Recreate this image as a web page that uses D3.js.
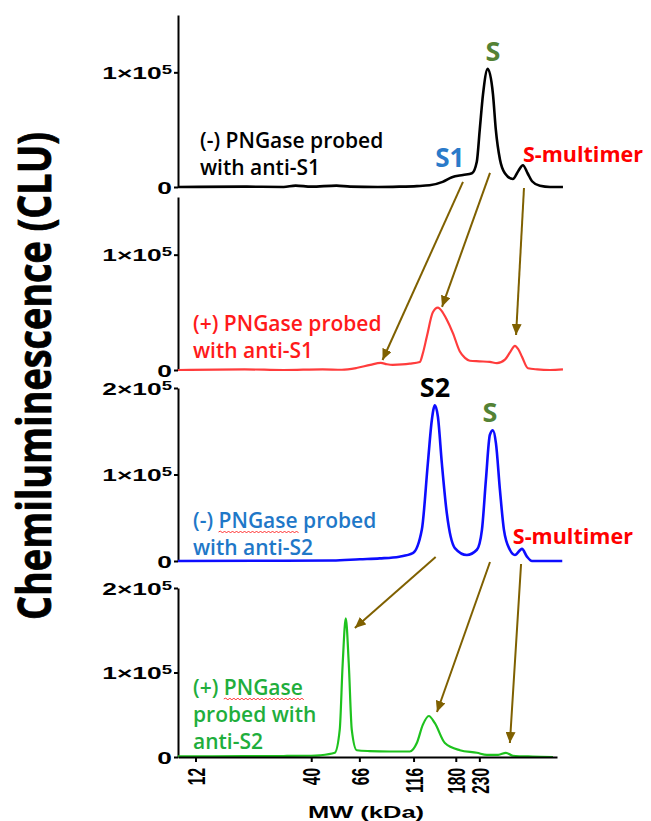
<!DOCTYPE html>
<html>
<head>
<meta charset="utf-8">
<script src="https://cdn.jsdelivr.net/npm/d3@7"></script>
<style>
body{margin:0;background:#fff;}
svg{display:block;}
</style>
</head>
<body>
<div id="chart"></div>
<script>
// x axis: molecular weight (kDa), log scale
const mwTicks = [12, 40, 66, 116, 180, 230];

// traces: [MW (kDa), chemiluminescence (CLU)]
const minusPNGaseS1 = [
  [10, 0], [20, 300], [30, 0], [34, 1200], [40, 300], [52, 1200], [60, 300], [80, 0], [100, 300],
  [120, 800], [137, 1500], [157, 4500], [173, 8500], [194, 10500], [213, 12000], [224, 22000],
  [231, 50000], [239, 81000], [251, 103000], [265, 81000], [273, 50000], [285, 24000],
  [300, 12000], [326, 7000], [345, 14000], [362, 19000], [380, 12000], [398, 5000],
  [432, 1000], [480, 0], [549, 0]
];
const plusPNGaseS1 = [
  [10, 0], [20, 500], [30, 0], [45, 600], [55, 200], [64, 1700], [74, 4500], [82.5, 6200],
  [88, 5000], [93.5, 4500], [103, 4800], [111.6, 5500], [123.8, 7000], [128, 15000],
  [133.2, 29000], [141.8, 50000], [149.4, 54000], [157, 50000], [164, 43500], [174.7, 32000],
  [187.8, 16000], [198, 10500], [208.4, 8000], [230, 7500], [256.7, 7000], [276.2, 6000],
  [300.2, 9000], [318, 16000], [333.1, 21000], [345, 18000], [358.4, 11500], [381.5, 1500],
  [420, 500], [480, 0], [549, 500]
];
const minusPNGaseS2 = [
  [10, 0], [30, 300], [50, 500], [66.3, 2000], [81.6, 3000], [100, 5000], [115.1, 9000],
  [126.4, 36000], [134.6, 113000], [140.3, 163000], [144.8, 180000], [149.4, 167000],
  [155.7, 113000], [164, 55000], [178.3, 15000], [202, 7000], [224.2, 13000], [236.3, 36000],
  [246.3, 94000], [256.7, 146000], [265, 151000], [273.4, 136000], [285, 82000],
  [297.1, 36000], [316, 13000], [333.1, 7000], [358.4, 14000], [377.5, 5000], [397.8, 0],
  [545, 0]
];
const plusPNGaseS2 = [
  [10, 800], [20, 1000], [30, 1200], [40, 1500], [43.7, 2000], [51.1, 5000], [53.8, 32000],
  [55.5, 111000], [57.3, 164000], [59.1, 111000], [61, 32000], [64.2, 8000], [73.5, 7000],
  [90, 6500], [111.6, 6500], [120, 16500], [127.7, 38000], [136, 48500], [144.8, 40000],
  [160.7, 16500], [187.8, 8000], [224.2, 5000], [248.9, 2500], [280, 2500], [303.3, 5000],
  [326.3, 1500], [400, 500], [495, 0]
];

const traces = [minusPNGaseS1, plusPNGaseS1, minusPNGaseS2, plusPNGaseS2];
const yMaxes = [1.5e5, 1.5e5, 2e5, 2e5];
const yTicks = [[0, 1e5], [0, 1e5], [0, 1e5, 2e5], [0, 1e5, 2e5]];
const traceColors = ["#000000", "#ff3c3c", "#0d0dff", "#1ec21e"];
const labelColors = ["#000000", "#ff1a1a", "#1f78c8", "#1fae3c"];
const panelLabels = [
  ["(-) PNGase probed", "with anti-S1"],
  ["(+) PNGase probed", "with anti-S1"],
  ["(-) PNGase probed", "with anti-S2"],
  ["(+) PNGase", "probed with", "anti-S2"]
];

// peak names, placed in data coordinates: panel, MW, CLU
const peakNames = [
  {p: 0, text: "S", mw: 265, clu: 110000, color: "#548235", anchor: "middle", size: 27},
  {p: 0, text: "S1", mw: 169, clu: 17500, color: "#2a7ac9", anchor: "middle", size: 26},
  {p: 0, text: "S-multimer", mw: 362, clu: 22000, color: "#ff0000", anchor: "start", size: 21.5},
  {p: 2, text: "S2", mw: 145, clu: 189600, color: "#000000", anchor: "middle", size: 27},
  {p: 2, text: "S", mw: 257, clu: 160700, color: "#548235", anchor: "middle", size: 27},
  {p: 2, text: "S-multimer", mw: 326, clu: 19700, color: "#ff0000", anchor: "start", size: 21.5}
];

// arrows from one panel to the next: [panel, MW, CLU]
const arrows = [
  {from: [0, 194, 4400], to: [1, 84, 8700]},
  {from: [0, 257, 12300], to: [1, 156, 54800]},
  {from: [0, 366, -900], to: [1, 337, 30400]},
  {from: [2, 146, 4600], to: [3, 63, 152700]},
  {from: [2, 257, -1200], to: [3, 148, 53300]},
  {from: [2, 355, -3500], to: [3, 316, 16600]}
];

const W = 651, H = 821;
const panels = [
  {top: 15, bottom: 187},
  {top: 197, bottom: 370},
  {top: 388, bottom: 561},
  {top: 588, bottom: 757}
];

const svg = d3.select("#chart").append("svg")
  .attr("width", W).attr("height", H);

svg.append("defs").append("marker")
  .attr("id", "head")
  .attr("markerUnits", "userSpaceOnUse")
  .attr("markerWidth", 11).attr("markerHeight", 10)
  .attr("refX", 11).attr("refY", 5)
  .attr("orient", "auto")
  .append("path")
  .attr("d", "M0,0L11,5L0,10Z")
  .attr("fill", "#7f6000");

const x = d3.scaleLog().domain([10, 516]).range([178, 557]);
const ys = panels.map((p, i) => d3.scaleLinear().domain([0, yMaxes[i]]).range([p.bottom, p.top]));

const tickFont = "'Liberation Sans', Arial, sans-serif";
const labelFont = "'Open Sans', 'Noto Sans', sans-serif";

panels.forEach((p, i) => {
  const y = ys[i];
  const g = svg.append("g").attr("class", "panel");

  // y axis
  const ax = g.append("g")
    .attr("transform", "translate(178,0)")
    .call(d3.axisLeft(y).tickValues(yTicks[i]).tickSize(4).tickSizeOuter(0));
  ax.select(".domain").attr("stroke-width", 2);
  ax.selectAll(".tick line").attr("stroke-width", 2);
  ax.selectAll(".tick text").each(function(d) {
    const t = d3.select(this).text(null)
      .attr("x", 0).attr("dy", null)
      .attr("transform", "translate(-6,6) scale(1.55,1)")
      .attr("font-family", tickFont).attr("font-weight", "bold")
      .attr("font-size", 17).attr("fill", "#000")
      .attr("text-anchor", "end");
    if (d === 0) {
      t.text("0");
    } else {
      t.append("tspan").text((d / 1e5) + "×10");
      t.append("tspan").attr("dy", "-0.4em").attr("font-size", 12).text("5");
    }
  });

  // trace
  const line = d3.line()
    .x(d => x(d[0]))
    .y(d => y(d[1]))
    .curve(d3.curveMonotoneX);
  g.append("path")
    .datum(traces[i])
    .attr("fill", "none")
    .attr("stroke", traceColors[i])
    .attr("stroke-width", i === 0 || i === 2 ? 2.6 : 2.2)
    .attr("stroke-linejoin", "round")
    .attr("d", line);

  // panel label
  const lines = panelLabels[i];
  const lh = 27;
  const firstBase = i === 3 ? p.bottom - 62 : (i === 2 ? p.bottom - 33 : p.bottom - 39);
  const lx = i === 0 ? 200 : 193;
  lines.forEach((s, k) => {
    const t = g.append("text")
      .attr("x", lx).attr("y", firstBase + k * lh)
      .attr("font-family", labelFont).attr("font-weight", 600)
      .attr("font-size", 21).attr("fill", labelColors[i])
      .text(s);
    const idx = s.indexOf("PNGase");
    if (idx >= 0 && i >= 2) {
      // spell-check squiggle under PNGase
      const node = t.node();
      const x0 = node.getStartPositionOfChar(idx).x;
      const x1 = node.getEndPositionOfChar(idx + 5).x;
      const yy = firstBase + k * lh + 4;
      let d = "M" + x0 + "," + yy;
      for (let xx = x0, up = true; xx < x1; xx += 2, up = !up) d += "L" + (xx + 2) + "," + (yy + (up ? -1 : 1));
      g.append("path").attr("d", d).attr("fill", "none").attr("stroke", "#ff0000").attr("stroke-width", 0.8);
    }
  });
});

// bottom x axis
const xa = svg.append("g")
  .attr("transform", "translate(0," + panels[3].bottom + ")")
  .call(d3.axisBottom(x).tickValues(mwTicks).tickFormat(d3.format("d")).tickSize(5).tickSizeOuter(0));
xa.select(".domain").attr("stroke-width", 2);
xa.selectAll(".tick line").attr("stroke-width", 2);
xa.selectAll(".tick text")
  .attr("font-family", tickFont).attr("font-weight", "bold").attr("font-size", 15.5)
  .attr("fill", "#000")
  .attr("text-anchor", "end")
  .attr("x", -11).attr("y", 0).attr("dy", "0.35em")
  .attr("transform", "scale(1.6,1) rotate(-90)");

svg.append("text")
  .attr("transform", "translate(366,818) scale(1.5,1)")
  .attr("text-anchor", "middle")
  .attr("font-family", tickFont).attr("font-weight", "bold").attr("font-size", 17)
  .text("MW (kDa)");

// y label
svg.append("text")
  .attr("transform", "translate(51,376) rotate(-90)")
  .attr("text-anchor", "middle")
  .attr("font-family", labelFont).attr("font-weight", 700).attr("font-size", 47)
  .attr("stroke", "#000").attr("stroke-width", 0.8)
  .attr("textLength", 488).attr("lengthAdjust", "spacingAndGlyphs")
  .text("Chemiluminescence (CLU)");

// peak names
svg.append("g").selectAll("text")
  .data(peakNames)
  .join("text")
  .attr("x", d => x(d.mw))
  .attr("y", d => ys[d.p](d.clu))
  .attr("text-anchor", d => d.anchor)
  .attr("font-family", labelFont).attr("font-weight", 700)
  .attr("font-size", d => d.size)
  .attr("fill", d => d.color)
  .text(d => d.text);

// arrows
svg.append("g").selectAll("line")
  .data(arrows)
  .join("line")
  .attr("x1", d => x(d.from[1])).attr("y1", d => ys[d.from[0]](d.from[2]))
  .attr("x2", d => x(d.to[1])).attr("y2", d => ys[d.to[0]](d.to[2]))
  .attr("stroke", "#7f6000").attr("stroke-width", 2)
  .attr("marker-end", "url(#head)");
</script>
</body>
</html>
